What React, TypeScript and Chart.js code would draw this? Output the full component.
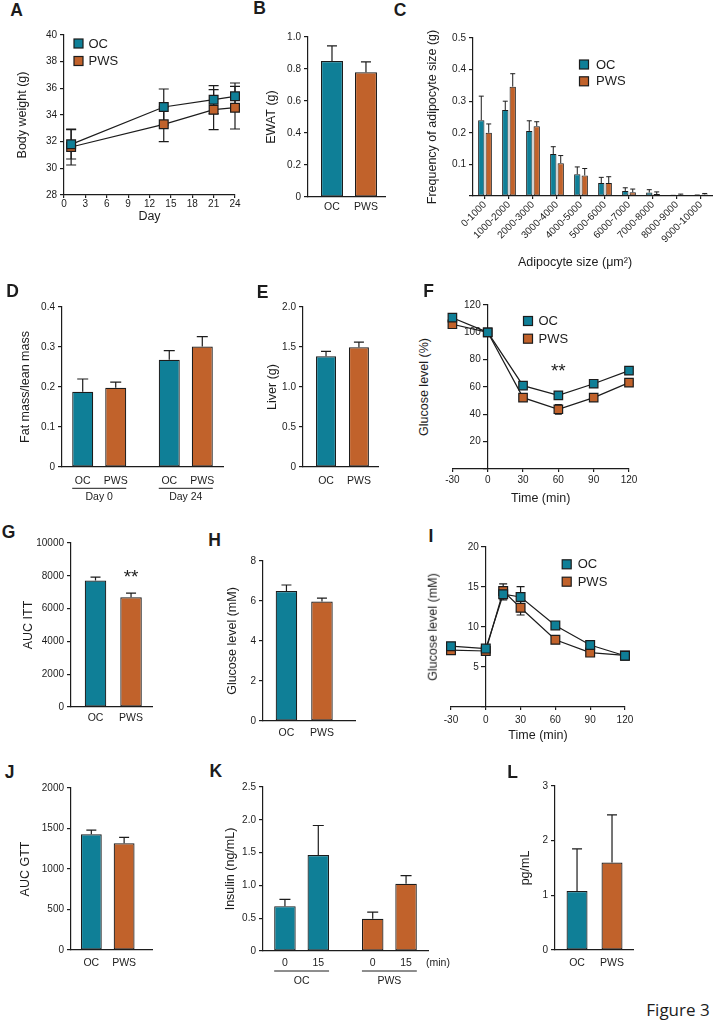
import React, { useEffect, useRef } from 'react';
import { Chart, registerables } from 'chart.js';

Chart.register(...registerables);

const OC_COLOR = '#0f7f97';
const PWS_COLOR = '#c1622b';
const INK = '#1c1c1c';
const FONT = "'Liberation Sans', Arial, Helvetica, sans-serif";

// ---------------- data ----------------
const groups = ['OC', 'PWS'];

// A: body weight
const weightDays = [1, 14, 21, 24];
const weightOC = [31.8, 34.6, 35.15, 35.4];
const weightOCErr = [1.1, 1.35, 1.05, 1.0];
const weightPWS = [31.6, 33.3, 34.4, 34.55];
const weightPWSErr = [1.35, 1.3, 1.5, 1.6];
const weightDayTicks = [0, 3, 6, 9, 12, 15, 18, 21, 24];
const weightTicks = [28, 30, 32, 34, 36, 38, 40];

// B: EWAT
const ewat = [0.85, 0.78];
const ewatErr = [0.095, 0.065];
const ewatTicks = [0, 0.2, 0.4, 0.6, 0.8, 1.0];

// C: adipocyte size distribution
const sizeBins = ['0-1000', '1000-2000', '2000-3000', '3000-4000', '4000-5000', '5000-6000', '6000-7000', '7000-8000', '8000-9000', '9000-10000'];
const adipOC = [0.24, 0.272, 0.206, 0.133, 0.069, 0.041, 0.016, 0.011, 0.001, 0.002];
const adipOCErr = [0.076, 0.028, 0.032, 0.023, 0.023, 0.018, 0.01, 0.009, 0.001, 0.001];
const adipPWS = [0.2, 0.346, 0.221, 0.104, 0.065, 0.041, 0.012, 0.006, 0.004, 0.005];
const adipPWSErr = [0.028, 0.041, 0.014, 0.024, 0.022, 0.02, 0.01, 0.007, 0.002, 0.003];
const adipTicks = [0, 0.1, 0.2, 0.3, 0.4, 0.5];

// D: fat mass / lean mass
const fatDays = ['Day 0', 'Day 24'];
const fatOC = [0.188, 0.268];
const fatOCErr = [0.032, 0.023];
const fatPWS = [0.198, 0.301];
const fatPWSErr = [0.014, 0.025];
const fatTicks = [0, 0.1, 0.2, 0.3, 0.4];

// E: liver
const liver = [1.383, 1.496];
const liverErr = [0.063, 0.066];
const liverTicks = [0, 0.5, 1.0, 1.5, 2.0];

// F: ITT
const ittTimes = [-30, 0, 30, 60, 90, 120];
const ittOC = [110.7, 100, 61, 53.9, 62.4, 72];
const ittOCErr = [2, 1, 1.5, 1.5, 2, 2.5];
const ittPWS = [105.9, 100, 52.2, 43.7, 52.2, 63.2];
const ittPWSErr = [2, 1, 1.2, 3.5, 1.5, 1.5];
const timeTicks = [-30, 0, 30, 60, 90, 120];
const ittTicks = [0, 20, 40, 60, 80, 100, 120];
const ittSignificance = [{ x: 60, y: 74.6, text: '**' }];

// G: AUC ITT
const aucItt = [7714, 6694];
const aucIttErr = [204, 245];
const aucIttTicks = [0, 2000, 4000, 6000, 8000, 10000];
const aucIttSignificance = [{ x: 1, y: 8170, text: '**' }];

// H: fasting glucose
const fastGlucose = [6.5, 5.97];
const fastGlucoseErr = [0.3, 0.17];
const fastGlucoseTicks = [0, 2, 4, 6, 8];

// I: GTT
const gttTimes = [-30, 0, 15, 30, 60, 90, 120];
const gttOC = [7.6, 7.3, 14.1, 13.75, 10.2, 7.75, 6.4];
const gttOCErr = [0.3, 0.3, 0.7, 1.3, 0.4, 0.4, 0.5];
const gttPWS = [7.1, 7.0, 14.5, 12.4, 8.4, 6.8, 6.45];
const gttPWSErr = [0.3, 0.3, 0.9, 0.9, 0.4, 0.3, 0.3];
const gttTicks = [0, 5, 10, 15, 20];

// J: AUC GTT
const aucGtt = [1428, 1317];
const aucGttErr = [53, 74];
const aucGttTicks = [0, 500, 1000, 1500, 2000];

// K: insulin
const insulinMinutes = ['0', '15'];
const insulin0 = [0.684, 0.49];
const insulin0Err = [0.102, 0.102];
const insulin15 = [1.464, 1.026];
const insulin15Err = [0.449, 0.122];
const insulinTicks = [0, 0.5, 1.0, 1.5, 2.0, 2.5];

// L: pg/mL
const plasmaLevel = [1.08, 1.6];
const plasmaLevelErr = [0.77, 0.87];
const plasmaTicks = [0, 1, 2, 3];

// ---------------- helpers ----------------
const tickFont = { family: FONT, size: 10 };
const titleFont = { family: FONT, size: 12.5 };
const border = { display: true, color: INK, width: 1.2 };

type Frame = {
  box: { left: number; top: number; width: number; height: number };
  yW: number;
  xH: number;
  pad: { left: number; top: number; right: number };
};

function frame(plotL: number, plotT: number, plotR: number, plotB: number, titleX: number | null, xH: number, padTop = 10, padRight = 8, padLeft = 12): Frame {
  let left: number, yW: number, pl: number;
  if (titleX !== null) {
    left = Math.round(titleX - 7.5);
    yW = plotL - left;
    pl = 0;
  } else {
    left = Math.round(plotL - padLeft);
    pl = plotL - left;
    yW = 0;
  }
  const top = Math.round(plotT - padTop);
  const width = Math.ceil(plotR + padRight - left);
  const height = Math.ceil(plotB + xH - top);
  return {
    box: { left, top, width, height },
    yW,
    xH: top + height - plotB,
    pad: { left: pl, top: plotT - top, right: left + width - plotR },
  };
}

function baseOptions(f: Frame) {
  return {
    animation: false,
    responsive: false,
    maintainAspectRatio: false,
    devicePixelRatio: 1,
    events: [],
    layout: { padding: { left: f.pad.left, top: f.pad.top, right: f.pad.right, bottom: 0 } },
    plugins: { legend: { display: false }, tooltip: { enabled: false } },
  };
}

function yScale(o: { ticks: number[]; fmt: (v: number) => string; title?: string; width?: number; position?: any; showLabels?: boolean }) {
  const s: any = {
    type: 'linear',
    min: o.ticks[0],
    max: o.ticks[o.ticks.length - 1],
    afterBuildTicks: (sc: any) => {
      sc.ticks = o.ticks.map((v) => ({ value: v }));
    },
    border,
    grid: { display: true, drawOnChartArea: false, drawTicks: true, tickLength: 4, color: INK, lineWidth: 1.2 },
    ticks: { display: o.showLabels ?? true, font: tickFont, color: INK, padding: 3, callback: (v: number) => o.fmt(v) },
    title: { display: !!o.title, text: o.title ?? '', font: titleFont, color: INK, padding: 0 },
  };
  if (o.width !== undefined) {
    const w = o.width;
    s.afterFit = (sc: any) => {
      sc.width = w;
    };
  }
  if (o.position) s.position = o.position;
  return s;
}

function xLinear(ticks: number[], height: number, pad: number, title?: string) {
  return {
    type: 'linear',
    min: ticks[0],
    max: ticks[ticks.length - 1],
    afterBuildTicks: (sc: any) => {
      sc.ticks = ticks.map((v) => ({ value: v }));
    },
    afterFit: (sc: any) => {
      sc.height = height;
    },
    border,
    grid: { display: true, drawOnChartArea: false, drawTicks: true, tickLength: 3, color: INK, lineWidth: 1.2 },
    ticks: { font: tickFont, color: INK, padding: pad, maxRotation: 0, autoSkip: false },
    title: { display: !!title, text: title ?? '', font: titleFont, color: INK, padding: 0 },
  };
}

function barX(o: { min: number; max: number; height: number; pad: number; labels: string[]; show: boolean }) {
  return {
    type: 'linear',
    min: o.min,
    max: o.max,
    offset: false,
    afterBuildTicks: (sc: any) => {
      sc.ticks = o.labels.map((_, i) => ({ value: i }));
    },
    afterFit: (sc: any) => {
      sc.height = o.height;
    },
    border,
    grid: { display: false, drawTicks: false },
    ticks: {
      display: o.show,
      font: { family: FONT, size: 10.5 },
      color: INK,
      padding: o.pad,
      autoSkip: false,
      maxRotation: 0,
      callback: (v: number) => o.labels[v] ?? '',
    },
  };
}

const fmtInt = (v: number) => String(Math.round(v));
const fmt1 = (v: number) => (v === 0 ? '0' : v.toFixed(1));
const fmt1NoZero = (v: number) => (v === 0 ? '' : v.toFixed(1));
const fmtIntNoZero = (v: number) => (v === 0 ? '' : String(Math.round(v)));

function lineSet(label: string, xs: number[], ys: number[], errs: number[], color: string, r: number) {
  return {
    label,
    data: xs.map((x, i) => ({ x, y: ys[i] })),
    errors: errs,
    borderColor: INK,
    borderWidth: 1.2,
    pointStyle: 'rect',
    pointRadius: r,
    pointBackgroundColor: color,
    pointBorderColor: INK,
    pointBorderWidth: 1.2,
    fill: false,
    tension: 0,
    clip: false,
  };
}

function barSet(label: string, values: number[], errs: number[], color: any, cp: number, bp: number, bw = 1.2) {
  return {
    label,
    data: values.map((y, x) => ({ x, y })),
    errors: errs,
    backgroundColor: color,
    borderColor: INK,
    borderWidth: bw,
    borderSkipped: false,
    categoryPercentage: cp,
    barPercentage: bp,
  };
}

// --------------- plugins ---------------
function errorBars(cap: number, both: boolean, lw = 1.2) {
  const draw = (chart: any) => {
    const { ctx } = chart;
    ctx.save();
    ctx.strokeStyle = INK;
    ctx.lineWidth = lw;
    chart.data.datasets.forEach((ds: any, i: number) => {
      const errs: number[] | undefined = ds.errors;
      if (!errs) return;
      const meta = chart.getDatasetMeta(i);
      const ys = chart.scales[meta.yAxisID];
      meta.data.forEach((el: any, j: number) => {
        const raw = ds.data[j];
        const v = typeof raw === 'number' ? raw : raw.y;
        const e = errs[j];
        const top = ys.getPixelForValue(v + e);
        const bottom = ys.getPixelForValue(both ? v - e : v);
        const x = el.x;
        ctx.beginPath();
        ctx.moveTo(x, bottom);
        ctx.lineTo(x, top);
        ctx.moveTo(x - cap, top);
        ctx.lineTo(x + cap, top);
        if (both) {
          ctx.moveTo(x - cap, bottom);
          ctx.lineTo(x + cap, bottom);
        }
        ctx.stroke();
      });
    });
    ctx.restore();
  };
  return both ? { id: 'errorBars', beforeDatasetsDraw: draw } : { id: 'errorBars', afterDatasetsDraw: draw };
}

// y tick labels for an axis that crosses the x axis at x = 0
function crossingYLabels(fmt: (v: number) => string) {
  return {
    id: 'crossingYLabels',
    afterDraw(chart: any) {
      const { ctx } = chart;
      const ys = chart.scales.y;
      const x0 = chart.scales.x.getPixelForValue(0);
      ctx.save();
      ctx.fillStyle = INK;
      ctx.font = `10px ${FONT}`;
      ctx.textAlign = 'right';
      ctx.textBaseline = 'middle';
      ys.ticks.forEach((t: any) => {
        const s = fmt(t.value);
        if (s) ctx.fillText(s, x0 - 7, ys.getPixelForValue(t.value));
      });
      ctx.restore();
    },
  };
}

function boxLegend(o: { dx: number; dy: number; gap: number; textDx: number; box?: number; size?: number }) {
  return {
    id: 'boxLegend',
    afterDraw(chart: any) {
      const { ctx, chartArea } = chart;
      const s = o.box ?? 9;
      ctx.save();
      ctx.font = `${o.size ?? 13}px ${FONT}`;
      ctx.textBaseline = 'middle';
      ctx.textAlign = 'left';
      chart.data.datasets.forEach((ds: any, i: number) => {
        const cx = chartArea.left + o.dx;
        const cy = chartArea.top + o.dy + i * o.gap;
        ctx.fillStyle = ds.pointBackgroundColor ?? ds.backgroundColor;
        ctx.fillRect(cx - s / 2, cy - s / 2, s, s);
        ctx.strokeStyle = INK;
        ctx.lineWidth = 1.2;
        ctx.strokeRect(cx - s / 2, cy - s / 2, s, s);
        ctx.fillStyle = INK;
        ctx.fillText(ds.label, cx + o.textDx, cy + 0.5);
      });
      ctx.restore();
    },
  };
}

function groupLabels(o: { barDy: number; lineDy: number; groupDy: number; tail?: { text: string; dx: number } }) {
  return {
    id: 'groupLabels',
    afterDraw(chart: any) {
      const { ctx, chartArea } = chart;
      const base = chartArea.bottom;
      ctx.save();
      ctx.fillStyle = INK;
      ctx.strokeStyle = INK;
      ctx.lineWidth = 1;
      ctx.textAlign = 'center';
      ctx.textBaseline = 'middle';
      ctx.font = `10.5px ${FONT}`;
      const n = chart.data.labels.length;
      for (let j = 0; j < n; j++) {
        let l = Infinity;
        let r = -Infinity;
        chart.data.datasets.forEach((ds: any, i: number) => {
          const el = chart.getDatasetMeta(i).data[j];
          ctx.fillText(ds.label, el.x, base + o.barDy);
          l = Math.min(l, el.x - el.width / 2);
          r = Math.max(r, el.x + el.width / 2);
        });
        ctx.beginPath();
        ctx.moveTo(l, base + o.lineDy);
        ctx.lineTo(r, base + o.lineDy);
        ctx.stroke();
        ctx.fillText(chart.data.labels[j], (l + r) / 2, base + o.groupDy);
      }
      if (o.tail) {
        ctx.textAlign = 'left';
        ctx.fillText(o.tail.text, chartArea.right + o.tail.dx, base + o.barDy);
      }
      ctx.restore();
    },
  };
}

function sigMarks(marks: { x: number; y: number; text: string }[], size = 19) {
  return {
    id: 'sigMarks',
    afterDatasetsDraw(chart: any) {
      const { ctx } = chart;
      ctx.save();
      ctx.fillStyle = INK;
      ctx.font = `${size}px ${FONT}`;
      ctx.textAlign = 'center';
      ctx.textBaseline = 'alphabetic';
      marks.forEach((m) => {
        const px = chart.scales.x.getPixelForValue(m.x);
        const py = chart.scales.y.getPixelForValue(m.y);
        ctx.fillText(m.text, px, py + size * 0.52);
      });
      ctx.restore();
    },
  };
}

// --------------- panels ---------------
type PanelDef = { f: Frame; make: (f: Frame) => any };

const fA = frame(64, 35, 235, 195, 22, 28.5, 10, 8);
const fB = frame(308, 37, 385, 197, 271.7, 22, 10, 6);
const fC = frame(473, 38, 713, 196, 432, 70, 10, 0);
const fD = frame(62, 307, 223, 467, 25, 40, 10, 6);
const fE = frame(303, 307, 378, 467, 272, 22, 10, 6);
const fF = frame(452.4, 305, 629, 469, null, 36.5, 10, 12, 12);
const fG = frame(71, 543, 152, 707, 28, 22, 10, 6);
const fH = frame(263, 561, 355, 721, 232, 22, 10, 6);
const fI = frame(451, 547, 626, 707, null, 35.5, 10, 12, 12);
const fJ = frame(71, 788, 152, 950, 25, 22, 10, 6);
const fK = frame(263, 787, 428, 951, 230, 40, 10, 24);
const fL = frame(555, 786, 633, 950, 525, 22, 10, 6);

function simpleBars(o: {
  values: number[];
  errs: number[];
  ticks: number[];
  fmt: (v: number) => string;
  title: string;
  min: number;
  max: number;
  pad: number;
  bp: number;
  cap: number;
  sig?: { x: number; y: number; text: string }[];
}) {
  return (f: Frame) => ({
    type: 'bar',
    data: {
      datasets: [barSet(o.title, o.values, o.errs, [OC_COLOR, PWS_COLOR], 0.8, o.bp)],
    },
    options: {
      ...baseOptions(f),
      scales: {
        x: barX({ min: o.min, max: o.max, height: f.xH, pad: o.pad, labels: groups, show: true }),
        y: yScale({ ticks: o.ticks, fmt: o.fmt, title: o.title, width: f.yW }),
      },
    },
    plugins: [errorBars(o.cap, false), ...(o.sig ? [sigMarks(o.sig)] : [])],
  });
}

const panels: PanelDef[] = [
  {
    f: fA,
    make: (f) => ({
      type: 'line',
      data: {
        datasets: [
          lineSet('OC', weightDays, weightOC, weightOCErr, OC_COLOR, 6.2),
          lineSet('PWS', weightDays, weightPWS, weightPWSErr, PWS_COLOR, 6.2),
        ],
      },
      options: {
        ...baseOptions(f),
        scales: {
          x: xLinear(weightDayTicks, f.xH, 0, 'Day'),
          y: yScale({ ticks: weightTicks, fmt: fmtInt, title: 'Body weight (g)', width: f.yW }),
        },
      },
      plugins: [errorBars(5, true), boxLegend({ dx: 14.5, dy: 8.5, gap: 17.5, textDx: 10 })],
    }),
  },
  {
    f: fB,
    make: simpleBars({ values: ewat, errs: ewatErr, ticks: ewatTicks, fmt: fmt1, title: 'EWAT (g)', min: -0.706, max: 1.56, pad: 4, bp: 0.81, cap: 5 }),
  },
  {
    f: fC,
    make: (f) => ({
      type: 'bar',
      data: {
        labels: sizeBins,
        datasets: [
          { label: 'OC', data: adipOC, errors: adipOCErr, backgroundColor: OC_COLOR, borderColor: INK, borderWidth: 1, borderSkipped: false, categoryPercentage: 0.62, barPercentage: 0.85 },
          { label: 'PWS', data: adipPWS, errors: adipPWSErr, backgroundColor: PWS_COLOR, borderColor: INK, borderWidth: 1, borderSkipped: false, categoryPercentage: 0.62, barPercentage: 0.85 },
        ],
      },
      options: {
        ...baseOptions(f),
        scales: {
          x: {
            type: 'category',
            offset: true,
            afterFit: (sc: any) => {
              sc.height = f.xH;
            },
            border,
            grid: { display: true, drawOnChartArea: false, offset: false, drawTicks: true, tickLength: 3, color: INK, lineWidth: 1.2 },
            ticks: { font: tickFont, color: INK, padding: 0, minRotation: 45, maxRotation: 45, autoSkip: false },
          },
          y: yScale({ ticks: adipTicks, fmt: fmt1NoZero, title: 'Frequency of adipocyte size (g)', width: f.yW }),
        },
      },
      plugins: [errorBars(2.5, false, 1), boxLegend({ dx: 111, dy: 26.5, gap: 16.8, textDx: 12 })],
    }),
  },
  {
    f: fD,
    make: (f) => ({
      type: 'bar',
      data: {
        labels: fatDays,
        datasets: [barSet('OC', fatOC, fatOCErr, OC_COLOR, 0.763, 0.636), barSet('PWS', fatPWS, fatPWSErr, PWS_COLOR, 0.763, 0.636)],
      },
      options: {
        ...baseOptions(f),
        scales: {
          x: barX({ min: -0.43, max: 1.43, height: f.xH, pad: 0, labels: fatDays, show: false }),
          y: yScale({ ticks: fatTicks, fmt: fmt1, title: 'Fat mass/lean mass', width: f.yW }),
        },
      },
      plugins: [errorBars(5.5, false), groupLabels({ barDy: 13.7, lineDy: 21.3, groupDy: 29.7 })],
    }),
  },
  {
    f: fE,
    make: simpleBars({ values: liver, errs: liverErr, ticks: liverTicks, fmt: fmt1, title: 'Liver (g)', min: -0.7, max: 1.58, pad: 7.5, bp: 0.76, cap: 5 }),
  },
  {
    f: fF,
    make: (f) => ({
      type: 'line',
      data: {
        datasets: [
          lineSet('OC', ittTimes, ittOC, ittOCErr, OC_COLOR, 6),
          lineSet('PWS', ittTimes, ittPWS, ittPWSErr, PWS_COLOR, 6),
        ],
      },
      options: {
        ...baseOptions(f),
        scales: {
          x: xLinear(timeTicks, f.xH, 2.7, 'Time (min)'),
          y: yScale({ ticks: ittTicks, fmt: fmtIntNoZero, position: { x: 0 }, showLabels: false }),
        },
      },
      plugins: [errorBars(3.5, true), crossingYLabels(fmtIntNoZero), boxLegend({ dx: 75.6, dy: 16, gap: 17.7, textDx: 10.5 }), sigMarks(ittSignificance)],
    }),
  },
  {
    f: fG,
    make: simpleBars({ values: aucItt, errs: aucIttErr, ticks: aucIttTicks, fmt: fmtInt, title: 'AUC ITT', min: -0.69, max: 1.59, pad: 5.3, bp: 0.757, cap: 5, sig: aucIttSignificance }),
  },
  {
    f: fH,
    make: simpleBars({ values: fastGlucose, errs: fastGlucoseErr, ticks: fastGlucoseTicks, fmt: fmtInt, title: 'Glucose level (mM)', min: -0.66, max: 1.93, pad: 5.7, bp: 0.757, cap: 5 }),
  },
  {
    f: fI,
    make: (f) => ({
      type: 'line',
      data: {
        datasets: [
          lineSet('OC', gttTimes, gttOC, gttOCErr, OC_COLOR, 6.2),
          lineSet('PWS', gttTimes, gttPWS, gttPWSErr, PWS_COLOR, 6.2),
        ],
      },
      options: {
        ...baseOptions(f),
        scales: {
          x: xLinear(timeTicks, f.xH, 4.7, 'Time (min)'),
          y: yScale({ ticks: gttTicks, fmt: fmtIntNoZero, position: { x: 0 }, showLabels: false }),
        },
      },
      plugins: [errorBars(4, true), crossingYLabels(fmtIntNoZero), boxLegend({ dx: 115.7, dy: 17.3, gap: 17.4, textDx: 11 })],
    }),
  },
  {
    f: fJ,
    make: simpleBars({ values: aucGtt, errs: aucGttErr, ticks: aucGttTicks, fmt: fmtInt, title: 'AUC GTT', min: -0.62, max: 1.85, pad: 7, bp: 0.795, cap: 5 }),
  },
  {
    f: fK,
    make: (f) => ({
      type: 'bar',
      data: {
        labels: groups,
        datasets: [
          barSet(insulinMinutes[0], insulin0, insulin0Err, [OC_COLOR, PWS_COLOR], 0.76, 0.645),
          barSet(insulinMinutes[1], insulin15, insulin15Err, [OC_COLOR, PWS_COLOR], 0.76, 0.645),
        ],
      },
      options: {
        ...baseOptions(f),
        scales: {
          x: barX({ min: -0.44, max: 1.44, height: f.xH, pad: 0, labels: groups, show: false }),
          y: yScale({ ticks: insulinTicks, fmt: fmt1, title: 'Insulin (ng/mL)', width: f.yW }),
        },
      },
      plugins: [errorBars(5.5, false), groupLabels({ barDy: 12, lineDy: 20, groupDy: 30, tail: { text: '(min)', dx: -2 } })],
    }),
  },
  {
    f: fL,
    make: simpleBars({ values: plasmaLevel, errs: plasmaLevelErr, ticks: plasmaTicks, fmt: fmtInt, title: 'pg/mL', min: -0.63, max: 1.6, pad: 7.3, bp: 0.75, cap: 5 }),
  },
];

// --------------- overlay texts ---------------
const panelLetters: [string, number, number][] = [
  ['A', 16.5, 11],
  ['B', 259.5, 9.2],
  ['C', 400, 10.8],
  ['D', 12.5, 291.7],
  ['E', 262.5, 293.3],
  ['F', 428.5, 291.7],
  ['G', 8.5, 533],
  ['H', 214.5, 541],
  ['I', 431, 536.5],
  ['J', 9.5, 773],
  ['K', 215.8, 771.7],
  ['L', 512.5, 772.5],
];

function ChartPanel({ def }: { def: PanelDef }) {
  const ref = useRef<HTMLCanvasElement>(null);
  useEffect(() => {
    const chart = new Chart(ref.current as HTMLCanvasElement, def.make(def.f));
    return () => chart.destroy();
  }, []);
  const b = def.f.box;
  return (
    <canvas
      ref={ref}
      width={b.width}
      height={b.height}
      style={{ position: 'absolute', left: b.left, top: b.top, width: b.width, height: b.height }}
    />
  );
}

function Label({ x, y, text, size, bold, rotate, family }: { x: number; y: number; text: string; size: number; bold?: boolean; rotate?: boolean; family?: string }) {
  return (
    <div
      style={{
        position: 'absolute',
        left: x,
        top: y,
        transform: `translate(-50%, -50%)${rotate ? ' rotate(-90deg)' : ''}`,
        whiteSpace: 'nowrap',
        fontFamily: family ?? FONT,
        fontSize: size,
        fontWeight: bold ? 700 : 400,
        lineHeight: 1,
        color: INK,
      }}
    >
      {text}
    </div>
  );
}

export default function App() {
  return (
    <div style={{ position: 'absolute', left: 0, top: 0, width: 713, height: 1020, background: '#ffffff', overflow: 'hidden' }}>
      {panels.map((p, i) => (
        <ChartPanel key={i} def={p} />
      ))}
      {panelLetters.map(([t, x, y]) => (
        <Label key={t} x={x} y={y} text={t} size={17.5} bold />
      ))}
      <Label x={424} y={387} text="Glucose level (%)" size={12.5} rotate />
      <Label x={433} y={627} text="Glucose level (mM)" size={12.5} rotate />
      <Label x={575} y={262} text="Adipocyte size (μm²)" size={12.5} />
      <Label x={678} y={1009} text="Figure 3" size={17} family="'Open Sans', 'Noto Sans', sans-serif" />
    </div>
  );
}
